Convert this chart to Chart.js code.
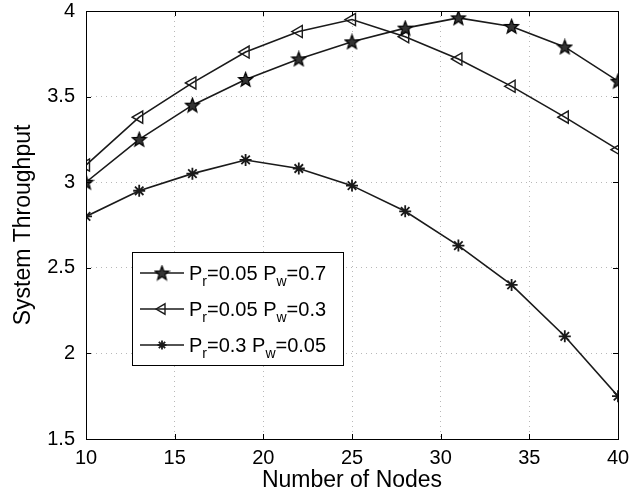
<!DOCTYPE html>
<html>
<head>
<meta charset="utf-8">
<script src="https://cdn.jsdelivr.net/npm/chart.js@4/dist/chart.umd.min.js"></script>
<style>
  html, body { margin: 0; padding: 0; background: #fff; }
  #wrap { width: 629px; height: 496px; }
</style>
</head>
<body>
<div id="wrap"><canvas id="chart" width="629" height="496"></canvas></div>
<script>
const nodes = [10, 13, 16, 19, 22, 25, 28, 31, 34, 37, 40];
const pw07 = [3.00, 3.25, 3.45, 3.60, 3.72, 3.82, 3.90, 3.96, 3.91, 3.79, 3.59];
const pw03 = [3.10, 3.38, 3.58, 3.76, 3.88, 3.95, 3.85, 3.72, 3.56, 3.38, 3.19];
const pw005 = [2.80, 2.95, 3.05, 3.13, 3.08, 2.98, 2.83, 2.63, 2.40, 2.10, 1.75];
// "_x" marks a subscript character
const legendLabels = ["P_r=0.05 P_w=0.7", "P_r=0.05 P_w=0.3", "P_r=0.3 P_w=0.05"];

const FONT = '"Liberation Sans", Arial, Helvetica, sans-serif';
const INK = "#1a1a1a";

// filled five-pointed star marker
function makeStar(size) {
    const c = document.createElement("canvas");
    c.width = size; c.height = size;
    const g = c.getContext("2d");
    const cx = size / 2, cy = size / 2 + 0.5, R = size / 2 - 1, r = R * 0.42;
    g.beginPath();
    for (let i = 0; i < 10; i++) {
        const rad = i % 2 === 0 ? R : r;
        const a = -Math.PI / 2 + i * Math.PI / 5;
        g.lineTo(cx + rad * Math.cos(a), cy + rad * Math.sin(a));
    }
    g.closePath();
    g.fillStyle = "#333";
    g.fill();
    g.lineWidth = 1.2;
    g.strokeStyle = "#000";
    g.stroke();
    return c;
}
const starImg = makeStar(17);

function pts(ys) {
    return nodes.map((x, i) => ({ x: x, y: ys[i] }));
}

const datasets = [
    {
        label: legendLabels[0],
        data: pts(pw07),
        borderColor: INK,
        borderWidth: 1.6,
        pointStyle: starImg,
        pointRadius: 8,
    },
    {
        label: legendLabels[1],
        data: pts(pw03),
        borderColor: INK,
        borderWidth: 1.6,
        pointStyle: "triangle",
        pointRotation: -90,
        pointRadius: 7,
        pointBorderWidth: 1.4,
        pointBackgroundColor: "rgba(0,0,0,0)",
        pointBorderColor: INK,
    },
    {
        label: legendLabels[2],
        data: pts(pw005),
        borderColor: INK,
        borderWidth: 1.6,
        pointStyle: "star",
        pointRadius: 6,
        pointBorderWidth: 1.8,
        pointBorderColor: INK,
        pointBackgroundColor: INK,
    },
];

// box around the plot with inward tick marks (matlab style)
const boxPlugin = {
    id: "box",
    afterDatasetsDraw(chart) {
        const { ctx, chartArea: a, scales } = chart;
        ctx.save();
        ctx.strokeStyle = "#000";
        ctx.lineWidth = 1;
        ctx.strokeRect(a.left + 0.5, a.top + 0.5, a.right - a.left, a.bottom - a.top);
        const len = 5;
        ctx.beginPath();
        scales.x.ticks.forEach(t => {
            const x = Math.round(scales.x.getPixelForValue(t.value)) + 0.5;
            ctx.moveTo(x, a.bottom); ctx.lineTo(x, a.bottom - len);
            ctx.moveTo(x, a.top); ctx.lineTo(x, a.top + len);
        });
        scales.y.ticks.forEach(t => {
            const y = Math.round(scales.y.getPixelForValue(t.value)) + 0.5;
            ctx.moveTo(a.left, y); ctx.lineTo(a.left + len, y);
            ctx.moveTo(a.right, y); ctx.lineTo(a.right - len, y);
        });
        ctx.stroke();
        ctx.restore();
    },
};

// legend inside the plot, with subscripts
const legendPlugin = {
    id: "subLegend",
    afterDatasetsDraw(chart) {
        const ctx = chart.ctx;
        const x0 = 132, y0 = 252, w = 211, h = 113;
        ctx.save();
        ctx.fillStyle = "#fff";
        ctx.fillRect(x0, y0, w, h);
        ctx.strokeStyle = "#000";
        ctx.lineWidth = 1;
        ctx.strokeRect(x0 + 0.5, y0 + 0.5, w, h);
        chart.data.datasets.forEach((ds, i) => {
            const cy = y0 + 21 + i * 36;
            ctx.strokeStyle = INK;
            ctx.lineWidth = 1.6;
            ctx.beginPath();
            ctx.moveTo(x0 + 8, cy); ctx.lineTo(x0 + 52, cy);
            ctx.stroke();
            ctx.fillStyle = ds.pointBackgroundColor || INK;
            ctx.strokeStyle = INK;
            ctx.lineWidth = ds.pointBorderWidth || 1;
            Chart.helpers.drawPoint(ctx, {
                pointStyle: ds.pointStyle,
                rotation: ds.pointRotation || 0,
                radius: ds.pointStyle === "star" ? 4.5 : 6,
                borderWidth: ds.pointBorderWidth || 1,
            }, x0 + 30, cy);
            // label text with subscripts
            let tx = x0 + 57;
            ctx.fillStyle = "#000";
            ctx.textBaseline = "alphabetic";
            const label = ds.label;
            for (let k = 0; k < label.length; k++) {
                if (label[k] === "_") {
                    k++;
                    ctx.font = "14px " + FONT;
                    ctx.fillText(label[k], tx, cy + 13);
                    tx += ctx.measureText(label[k]).width;
                } else {
                    ctx.font = "20px " + FONT;
                    ctx.fillText(label[k], tx, cy + 7);
                    tx += ctx.measureText(label[k]).width;
                }
            }
        });
        ctx.restore();
    },
};

const gridStyle = {
    color: "#b8b8b8",
    lineWidth: 1,
    drawTicks: false,
};

new Chart(document.getElementById("chart"), {
    type: "line",
    data: { datasets: datasets },
    options: {
        responsive: false,
        animation: false,
        layout: { padding: { top: 11, right: 11, left: 0, bottom: 0 } },
        plugins: { legend: { display: false }, tooltip: { enabled: false } },
        scales: {
            x: {
                type: "linear",
                min: 10,
                max: 40,
                ticks: { stepSize: 5, color: "#000", padding: 7, font: { family: FONT, size: 20 } },
                grid: gridStyle,
                border: { display: false, dash: [1, 4] },
                title: { display: true, text: "Number of Nodes", color: "#000", padding: { top: 0, bottom: 2 }, font: { family: FONT, size: 23 } },
                afterFit(scale) {
                    scale.height = 57;
                    scale.paddingLeft = 0;
                    scale.paddingRight = 0;
                },
            },
            y: {
                min: 1.5,
                max: 4,
                ticks: {
                    stepSize: 0.5,
                    color: "#000",
                    padding: 11,
                    font: { family: FONT, size: 20 },
                    callback: v => String(v),
                },
                grid: gridStyle,
                border: { display: false, dash: [1, 4] },
                title: { display: true, text: "System Throughput", color: "#000", padding: { top: 10, bottom: 0 }, font: { family: FONT, size: 23 } },
                afterFit(scale) {
                    scale.width = 86;
                    scale.paddingTop = 0;
                    scale.paddingBottom = 0;
                },
            },
        },
    },
    plugins: [boxPlugin, legendPlugin],
});
</script>
</body>
</html>
